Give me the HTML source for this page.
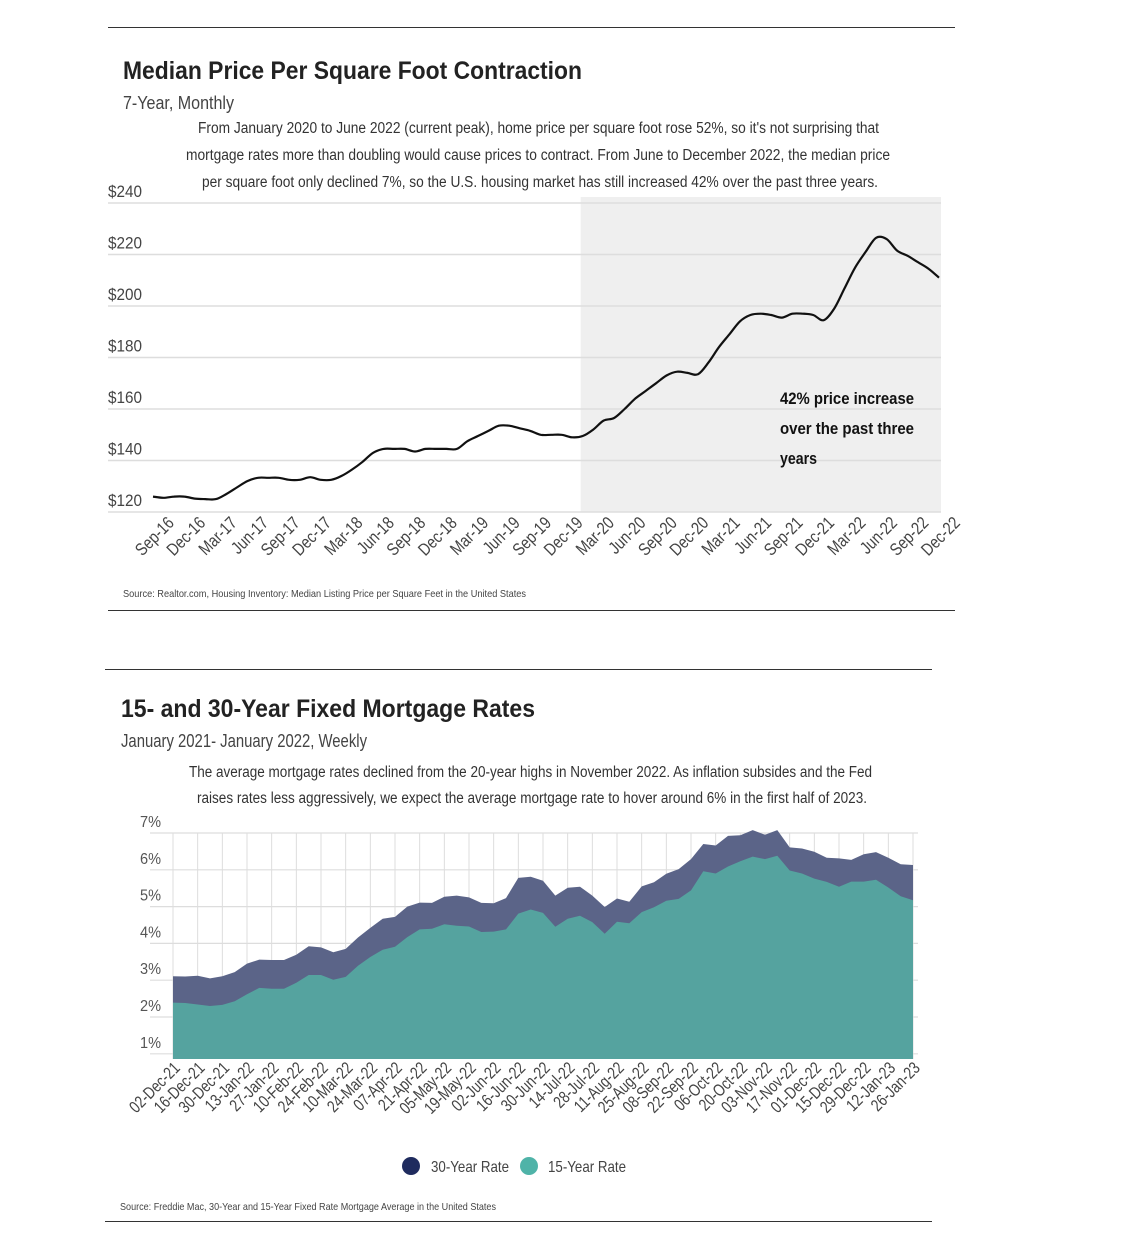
<!DOCTYPE html>
<html><head><meta charset="utf-8"><style>
body{margin:0;background:#fff;width:1148px;height:1245px;overflow:hidden}
svg{display:block}
text{font-family:"Liberation Sans Narrow","Liberation Sans",sans-serif;fill:#333}
</style></head><body>
<svg id="svg" width="1148" height="1245" viewBox="0 0 1148 1245">
<line x1="108" y1="27.5" x2="955" y2="27.5" stroke="#333"/>
<text x="123" y="79" textLength="459" lengthAdjust="spacingAndGlyphs" style="font-size:25px;font-weight:bold;fill:#222">Median Price Per Square Foot Contraction</text>
<text x="123" y="109" textLength="111" lengthAdjust="spacingAndGlyphs" style="font-size:18px;fill:#444">7-Year, Monthly</text>
<g style="font-size:15.5px">
<text x="198" y="133" textLength="681" lengthAdjust="spacingAndGlyphs">From January 2020 to June 2022 (current peak), home price per square foot rose 52%, so it's not surprising that</text>
<text x="186" y="160" textLength="704" lengthAdjust="spacingAndGlyphs">mortgage rates more than doubling would cause prices to contract. From June to December 2022, the median price</text>
<text x="202" y="187" textLength="676" lengthAdjust="spacingAndGlyphs">per square foot only declined 7%, so the U.S. housing market has still increased 42% over the past three years.</text>
</g>
<g id="c1"></g>
<text x="123" y="597" textLength="403" lengthAdjust="spacingAndGlyphs" style="font-size:10.5px;fill:#444">Source:  Realtor.com, Housing Inventory: Median Listing Price per Square Feet in the United States</text>
<line x1="108" y1="610.5" x2="955" y2="610.5" stroke="#333"/>

<line x1="105" y1="669.5" x2="932" y2="669.5" stroke="#333"/>
<text x="121" y="717" textLength="414" lengthAdjust="spacingAndGlyphs" style="font-size:25px;font-weight:bold;fill:#222">15- and 30-Year Fixed Mortgage Rates</text>
<text x="121" y="747" textLength="246" lengthAdjust="spacingAndGlyphs" style="font-size:18px;fill:#444">January 2021- January 2022, Weekly</text>
<g style="font-size:15.5px">
<text x="189" y="777" textLength="683" lengthAdjust="spacingAndGlyphs">The average mortgage rates declined from the 20-year highs in November 2022. As inflation subsides and the Fed</text>
<text x="197" y="803" textLength="670" lengthAdjust="spacingAndGlyphs">raises rates less aggressively, we expect the average mortgage rate to hover around 6% in the first half of 2023.</text>
</g>
<g id="c2"></g>
<circle cx="411" cy="1166" r="9" fill="#1f2b5e"/>
<text x="431" y="1172" textLength="78" lengthAdjust="spacingAndGlyphs" style="font-size:16px;fill:#444">30-Year Rate</text>
<circle cx="529" cy="1166" r="9" fill="#4fb3a8"/>
<text x="548" y="1172" textLength="78" lengthAdjust="spacingAndGlyphs" style="font-size:16px;fill:#444">15-Year Rate</text>
<text x="120" y="1210" textLength="376" lengthAdjust="spacingAndGlyphs" style="font-size:10.5px;fill:#444">Source:  Freddie Mac, 30-Year  and 15-Year Fixed Rate Mortgage Average in the United States</text>
<line x1="105" y1="1221.5" x2="932" y2="1221.5" stroke="#333"/>
</svg>
<script>
const priceTicks=[120,140,160,180,200,220,240];
const priceLabels=["Sep-16","Dec-16","Mar-17","Jun-17","Sep-17","Dec-17","Mar-18","Jun-18","Sep-18","Dec-18","Mar-19","Jun-19","Sep-19","Dec-19","Mar-20","Jun-20","Sep-20","Dec-20","Mar-21","Jun-21","Sep-21","Dec-21","Mar-22","Jun-22","Sep-22","Dec-22"];
const priceValues=[126,125.5,126,126,125.2,125,125,127,129.5,132,133.3,133.3,133.3,132.5,132.5,133.5,132.5,132.5,134,136.5,139.5,143,144.5,144.5,144.5,143.5,144.5,144.5,144.5,144.5,147.5,149.5,151.5,153.5,153.5,152.5,151.5,150,150,150,149,149.5,152,155.5,156.5,160,164,167,170,173,174.5,174,173.5,178,184,189,194,196.5,197,196.5,195.5,197,197,196.5,194.5,199,207,215,221,226.5,226,221.5,219.5,217,214.5,211];
const rateTicks=[1,2,3,4,5,6,7];
const rateLabels=["02-Dec-21","16-Dec-21","30-Dec-21","13-Jan-22","27-Jan-22","10-Feb-22","24-Feb-22","10-Mar-22","24-Mar-22","07-Apr-22","21-Apr-22","05-May-22","19-May-22","02-Jun-22","16-Jun-22","30-Jun-22","14-Jul-22","28-Jul-22","11-Aug-22","25-Aug-22","08-Sep-22","22-Sep-22","06-Oct-22","20-Oct-22","03-Nov-22","17-Nov-22","01-Dec-22","15-Dec-22","29-Dec-22","12-Jan-23","26-Jan-23"];
const rate30=[3.11,3.10,3.12,3.05,3.11,3.22,3.45,3.56,3.55,3.55,3.69,3.92,3.89,3.76,3.85,4.16,4.42,4.67,4.72,5.00,5.11,5.10,5.27,5.30,5.25,5.10,5.09,5.23,5.78,5.81,5.70,5.30,5.51,5.54,5.30,4.99,5.22,5.13,5.55,5.66,5.89,6.02,6.29,6.70,6.66,6.92,6.94,7.08,6.95,7.08,6.61,6.58,6.49,6.33,6.31,6.27,6.42,6.48,6.33,6.15,6.13];
const rate15=[2.39,2.38,2.34,2.30,2.33,2.43,2.62,2.79,2.77,2.77,2.93,3.14,3.14,3.01,3.09,3.39,3.63,3.83,3.91,4.17,4.38,4.40,4.52,4.48,4.46,4.31,4.32,4.38,4.81,4.92,4.83,4.45,4.67,4.75,4.58,4.26,4.59,4.55,4.85,4.98,5.16,5.21,5.44,5.96,5.90,6.09,6.23,6.36,6.29,6.38,5.98,5.90,5.76,5.67,5.54,5.68,5.68,5.73,5.52,5.28,5.17];
const NS="http://www.w3.org/2000/svg";
function mk(parent,tag,attrs,txt){const e=document.createElementNS(NS,tag);for(const k in attrs)e.setAttribute(k,attrs[k]);if(txt!==undefined)e.textContent=txt;parent.appendChild(e);return e;}

// Chart 1
const c1=document.getElementById('c1');
const x1L=153,x1R=939,y1T=203,y1B=512;
const px=i=>x1L+(x1R-x1L)*i/(priceValues.length-1);
const py=v=>y1B-(v-120)/(240-120)*(y1B-y1T);
const shade=mk(c1,'rect',{x:px(41)-2,y:197,width:x1R+2-(px(41)-2),height:y1B-197,fill:'#efefef'});


priceTicks.forEach(t=>{
  const g=mk(c1,'line',{x1:108,x2:941,y1:py(t),y2:py(t),stroke:'#ddd','stroke-width':1.5});
  
  
  const l=mk(c1,'text',{x:108,y:py(t)-6,textLength:34,lengthAdjust:'spacingAndGlyphs',style:'font-size:16.5px;fill:#444'},'$'+t);
  
  
});
function smooth(pts){let d='M'+pts[0][0].toFixed(1)+','+pts[0][1].toFixed(1);for(let i=0;i<pts.length-1;i++){const p0=pts[Math.max(0,i-1)],p1=pts[i],p2=pts[i+1],p3=pts[Math.min(pts.length-1,i+2)];const c1x=p1[0]+(p2[0]-p0[0])/6,c1y=p1[1]+(p2[1]-p0[1])/6,c2x=p2[0]-(p3[0]-p1[0])/6,c2y=p2[1]-(p3[1]-p1[1])/6;d+=`C${c1x.toFixed(1)},${c1y.toFixed(1)} ${c2x.toFixed(1)},${c2y.toFixed(1)} ${p2[0].toFixed(1)},${p2[1].toFixed(1)}`;}return d;}
const line=mk(c1,'path',{d:smooth(priceValues.map((v,i)=>[px(i),py(v)])),fill:'none',stroke:'#111','stroke-width':2.2,'stroke-linejoin':'round'});


priceLabels.forEach((s,i)=>{
  const x=px(i*3)+22,y=524;
  const t=mk(c1,'text',{x:0,y:0,'text-anchor':'end',transform:`translate(${x} ${y}) rotate(-45) scale(0.82 1)`,style:'font-size:17.5px;fill:#444'},s);
  
  
});
const ann=mk(c1,'g',{style:'font-size:17px;font-weight:bold'});


[["42% price increase",134],["over the past three",134],["years",37]].forEach((s,i)=>mk(ann,'text',{x:780,y:404+i*30,textLength:s[1],lengthAdjust:'spacingAndGlyphs',style:'fill:#111'},s[0]));

// Chart 2
const c2=document.getElementById('c2');
const x2L=173,x2R=913;
const ry=v=>833+(7-v)*36.8;const yB=1059;
const rx=i=>x2L+(x2R-x2L)*i/(rate30.length-1);
rateTicks.forEach(t=>{
  const g=mk(c2,'line',{x1:150,x2:918,y1:ry(t),y2:ry(t),stroke:'#ddd','stroke-width':1.2});
  
  
  const l=mk(c2,'text',{x:140,y:ry(t)-6,textLength:21,lengthAdjust:'spacingAndGlyphs',style:'font-size:16px;fill:#555'},t+'%');
  
  
});
rateLabels.forEach((s,i)=>{
  const x=rx(i*2);
  const g=mk(c2,'line',{x1:x,x2:x,y1:833,y2:yB,stroke:'#ddd','stroke-width':1});
  
  
});
function area(vals,fill,name){
  let d='M'+rx(0)+','+yB;vals.forEach((v,i)=>{d+='L'+rx(i).toFixed(1)+','+ry(v).toFixed(1);});d+='L'+rx(vals.length-1)+','+yB+'Z';
  const p=mk(c2,'path',{d:d,fill:fill});
  
  
}
area(rate30,'#5b6488','area-30yr');
area(rate15,'#55a39f','area-15yr');
rateLabels.forEach((s,i)=>{
  const x=rx(i*2)+8,y=1069;
  const t=mk(c2,'text',{x:0,y:0,'text-anchor':'end',transform:`translate(${x} ${y}) rotate(-45) scale(0.8 1)`,style:'font-size:17px;fill:#444'},s);
  
  
});
</script>
</body></html>
